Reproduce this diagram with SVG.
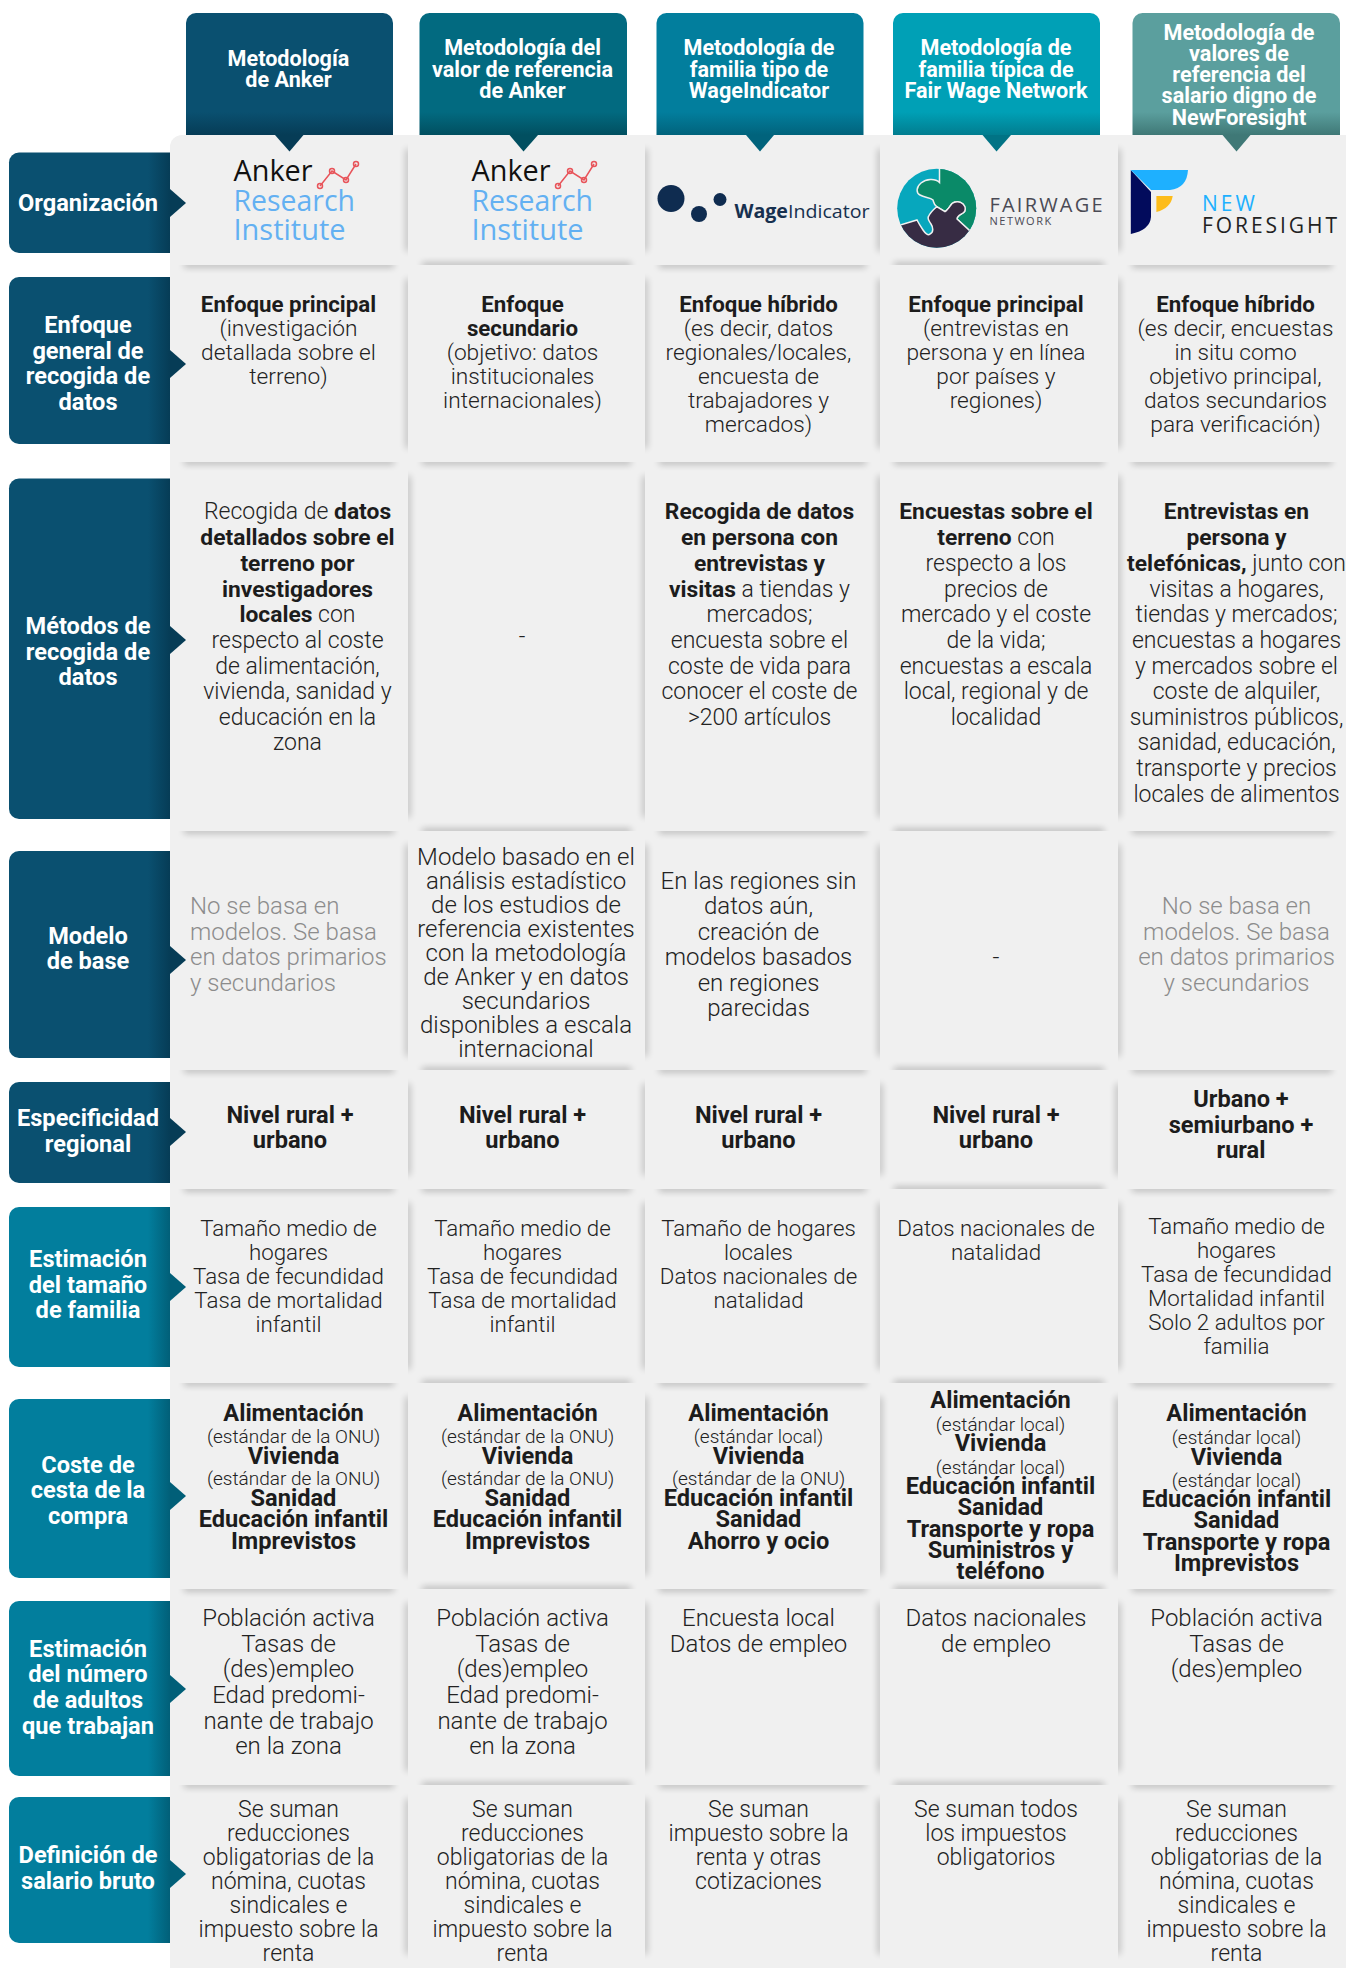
<svg xmlns="http://www.w3.org/2000/svg" width="1346" height="1968" viewBox="0 0 1346 1968">
<style>
text{font-family:Roboto,"Liberation Sans",sans-serif;text-anchor:middle}
.t{font-size:22.7px;font-weight:300;fill:#222}
.f{font-size:22.3px;font-weight:300;fill:#222}
.d{font-size:23px;font-weight:300;fill:#222}
.a{font-size:24px;font-weight:300;fill:#222}
.o{font-size:24px;font-weight:300;fill:#222}
.m{font-size:23px;font-weight:300;fill:#222}
.b{font-weight:700;fill:#1c1c1c}
.t .b{font-size:22.3px}
.m .b{font-size:22.8px}
.p{font-size:19px;font-weight:300;fill:#222}
.c{font-size:23.6px;font-weight:700;fill:#1c1c1c}
.g{font-size:24px;font-weight:300;fill:#8c8c8c}
.h{font-size:21.6px;font-weight:700;fill:#fff}
.l{font-size:23.6px;font-weight:700;fill:#fff;transform:translateY(.8px)}
.s{fill:#000;opacity:.28;filter:url(#bl)}
.v .s{opacity:.24}
.logo{font-family:"Open Sans",sans-serif;text-anchor:start}
.blue{font-size:30px;fill:#63b0f2}
.red{fill:none;stroke:#e8545a;stroke-width:1.5px}
</style>
<defs>
<filter id="bl" x="-400%" y="-400%" width="900%" height="900%"><feGaussianBlur stdDeviation="3.5"/></filter>
<linearGradient id="ld" gradientUnits="userSpaceOnUse" x1="148" y1="0" x2="170" y2="0"><stop offset="0" stop-color="#0a5070"/><stop offset="1" stop-color="#063c56"/></linearGradient>
<linearGradient id="lt" gradientUnits="userSpaceOnUse" x1="148" y1="0" x2="170" y2="0"><stop offset="0" stop-color="#027e9d"/><stop offset="1" stop-color="#015f78"/></linearGradient>
<linearGradient id="h1" gradientUnits="userSpaceOnUse" x1="0" y1="112" x2="0" y2="135"><stop offset="0" stop-color="#0a5070"/><stop offset="1" stop-color="#063c56"/></linearGradient>
<linearGradient id="h2" gradientUnits="userSpaceOnUse" x1="0" y1="112" x2="0" y2="135"><stop offset="0" stop-color="#026a80"/><stop offset="1" stop-color="#014f60"/></linearGradient>
<linearGradient id="h3" gradientUnits="userSpaceOnUse" x1="0" y1="112" x2="0" y2="135"><stop offset="0" stop-color="#027e9d"/><stop offset="1" stop-color="#01637c"/></linearGradient>
<linearGradient id="h4" gradientUnits="userSpaceOnUse" x1="0" y1="112" x2="0" y2="135"><stop offset="0" stop-color="#00a0b6"/><stop offset="1" stop-color="#017d8f"/></linearGradient>
<linearGradient id="h5" gradientUnits="userSpaceOnUse" x1="0" y1="112" x2="0" y2="135"><stop offset="0" stop-color="#5b9f9e"/><stop offset="1" stop-color="#3f7876"/></linearGradient>
<clipPath id="fw"><circle cx="936.700" cy="208.300" r="39.500"/></clipPath>
</defs>
<rect width="1346" height="1968" fill="#fff"/>

<g id="headers">
<g id="header-1"><path d="M186 135V23a10 10 0 0 1 10-10H383a10 10 0 0 1 10 10V135Z" fill="url(#h1)"/><text class="h"><tspan x="288.500" y="66">Metodología</tspan><tspan x="288.500" y="87">de Anker</tspan></text></g>
<g id="header-2"><path d="M419.500 135V23a10 10 0 0 1 10-10H617a10 10 0 0 1 10 10V135Z" fill="url(#h2)"/><text class="h"><tspan x="522.500" y="55">Metodología del</tspan><tspan x="522.500" y="76.500">valor de referencia</tspan><tspan x="522.500" y="97.500">de Anker</tspan></text></g>
<g id="header-3"><path d="M656.500 135V23a10 10 0 0 1 10-10H853.500a10 10 0 0 1 10 10V135Z" fill="url(#h3)"/><text class="h"><tspan x="759" y="55">Metodología de</tspan><tspan x="759" y="76.500">familia tipo de</tspan><tspan x="759" y="97.500">WageIndicator</tspan></text></g>
<g id="header-4"><path d="M893 135V23a10 10 0 0 1 10-10H1090a10 10 0 0 1 10 10V135Z" fill="url(#h4)"/><text class="h"><tspan x="996" y="55">Metodología de</tspan><tspan x="996" y="76.500">familia típica de</tspan><tspan x="996" y="97.500">Fair Wage Network</tspan></text></g>
<g id="header-5"><path d="M1132.500 135V23a10 10 0 0 1 10-10H1330a10 10 0 0 1 10 10V135Z" fill="url(#h5)"/><text class="h"><tspan x="1239" y="39.500">Metodología de</tspan><tspan x="1239" y="60.500">valores de</tspan><tspan x="1239" y="82">referencia del</tspan><tspan x="1239" y="103">salario digno de</tspan><tspan x="1239" y="124.500">NewForesight</tspan></text></g>
</g>

<g id="row-labels">
<g id="lab-1"><path d="M170 152.500H19a10 10 0 0 0-10 10V243a10 10 0 0 0 10 10H170Z" fill="url(#ld)"/><text class="l"><tspan x="88" y="210">Organización</tspan></text></g>
<g id="lab-2"><path d="M170 277H19a10 10 0 0 0-10 10V434a10 10 0 0 0 10 10H170Z" fill="url(#ld)"/><text class="l"><tspan x="88" y="332">Enfoque</tspan><tspan x="88" y="358">general de</tspan><tspan x="88" y="383.500">recogida de</tspan><tspan x="88" y="409.500">datos</tspan></text></g>
<g id="lab-3"><path d="M170 478.500H19a10 10 0 0 0-10 10V809a10 10 0 0 0 10 10H170Z" fill="url(#ld)"/><text class="l"><tspan x="88" y="633">Métodos de</tspan><tspan x="88" y="659">recogida de</tspan><tspan x="88" y="684">datos</tspan></text></g>
<g id="lab-4"><path d="M170 851H19a10 10 0 0 0-10 10V1048a10 10 0 0 0 10 10H170Z" fill="url(#ld)"/><text class="l"><tspan x="88" y="943">Modelo</tspan><tspan x="88" y="968">de base</tspan></text></g>
<g id="lab-5"><path d="M170 1082H19a10 10 0 0 0-10 10V1173a10 10 0 0 0 10 10H170Z" fill="url(#ld)"/><text class="l"><tspan x="88" y="1125">Especificidad</tspan><tspan x="88" y="1151">regional</tspan></text></g>
<g id="lab-6"><path d="M170 1207H19a10 10 0 0 0-10 10V1357a10 10 0 0 0 10 10H170Z" fill="url(#lt)"/><text class="l"><tspan x="88" y="1266.500">Estimación</tspan><tspan x="88" y="1292">del tamaño</tspan><tspan x="88" y="1317">de familia</tspan></text></g>
<g id="lab-7"><path d="M170 1399H19a10 10 0 0 0-10 10V1568a10 10 0 0 0 10 10H170Z" fill="url(#lt)"/><text class="l"><tspan x="88" y="1472">Coste de</tspan><tspan x="88" y="1497">cesta de la</tspan><tspan x="88" y="1523">compra</tspan></text></g>
<g id="lab-8"><path d="M170 1601H19a10 10 0 0 0-10 10V1766a10 10 0 0 0 10 10H170Z" fill="url(#lt)"/><text class="l"><tspan x="88" y="1656">Estimación</tspan><tspan x="88" y="1681.500">del número</tspan><tspan x="88" y="1707.500">de adultos</tspan><tspan x="88" y="1733.500">que trabajan</tspan></text></g>
<g id="lab-9"><path d="M170 1797H19a10 10 0 0 0-10 10V1933a10 10 0 0 0 10 10H170Z" fill="url(#lt)"/><text class="l"><tspan x="88" y="1862">Definición de</tspan><tspan x="88" y="1888">salario bruto</tspan></text></g>
</g>

<g id="panel"><path d="M170 1968V147a12 12 0 0 1 12-12H1346V1968Z" fill="#f0f0f0"/></g>

<g id="shadows">
<svg x="170" y="265" width="238" height="18"><rect class="s" x="14" y="-3" width="210" height="5"/></svg>
<svg x="170" y="462" width="238" height="18"><rect class="s" x="14" y="-3" width="210" height="5"/></svg>
<svg x="170" y="831" width="238" height="18"><rect class="s" x="14" y="-3" width="210" height="5"/></svg>
<svg x="170" y="1070" width="238" height="18"><rect class="s" x="14" y="-3" width="210" height="5"/></svg>
<svg x="170" y="1189" width="238" height="18"><rect class="s" x="14" y="-3" width="210" height="5"/></svg>
<svg x="170" y="1383" width="238" height="18"><rect class="s" x="14" y="-3" width="210" height="5"/></svg>
<svg x="170" y="1589" width="238" height="18"><rect class="s" x="14" y="-3" width="210" height="5"/></svg>
<svg x="170" y="1785" width="238" height="18"><rect class="s" x="14" y="-3" width="210" height="5"/></svg>

<svg x="645" y="265" width="235" height="18"><rect class="s" x="14" y="-3" width="207" height="5"/></svg>
<svg x="645" y="462" width="235" height="18"><rect class="s" x="14" y="-3" width="207" height="5"/></svg>
<svg x="645" y="831" width="235" height="18"><rect class="s" x="14" y="-3" width="207" height="5"/></svg>
<svg x="645" y="1070" width="235" height="18"><rect class="s" x="14" y="-3" width="207" height="5"/></svg>
<svg x="645" y="1189" width="235" height="18"><rect class="s" x="14" y="-3" width="207" height="5"/></svg>
<svg x="645" y="1383" width="235" height="18"><rect class="s" x="14" y="-3" width="207" height="5"/></svg>
<svg x="645" y="1589" width="235" height="18"><rect class="s" x="14" y="-3" width="207" height="5"/></svg>
<svg x="645" y="1785" width="235" height="18"><rect class="s" x="14" y="-3" width="207" height="5"/></svg>

<svg x="1118" y="265" width="228" height="18"><rect class="s" x="14" y="-3" width="200" height="5"/></svg>
<svg x="1118" y="462" width="228" height="18"><rect class="s" x="14" y="-3" width="200" height="5"/></svg>
<svg x="1118" y="831" width="228" height="18"><rect class="s" x="14" y="-3" width="200" height="5"/></svg>
<svg x="1118" y="1070" width="228" height="18"><rect class="s" x="14" y="-3" width="200" height="5"/></svg>
<svg x="1118" y="1189" width="228" height="18"><rect class="s" x="14" y="-3" width="200" height="5"/></svg>
<svg x="1118" y="1383" width="228" height="18"><rect class="s" x="14" y="-3" width="200" height="5"/></svg>
<svg x="1118" y="1589" width="228" height="18"><rect class="s" x="14" y="-3" width="200" height="5"/></svg>
<svg x="1118" y="1785" width="228" height="18"><rect class="s" x="14" y="-3" width="200" height="5"/></svg>

<svg x="408" y="247" width="237" height="18"><rect class="s" x="14" y="16" width="209" height="5"/></svg>
<svg x="408" y="462" width="237" height="18"><rect class="s" x="14" y="-3" width="209" height="5"/></svg>
<svg x="408" y="813" width="237" height="18"><rect class="s" x="14" y="16" width="209" height="5"/></svg>
<svg x="408" y="1052" width="237" height="18"><rect class="s" x="14" y="16" width="209" height="5"/></svg>
<svg x="408" y="1189" width="237" height="18"><rect class="s" x="14" y="-3" width="209" height="5"/></svg>
<svg x="408" y="1365" width="237" height="18"><rect class="s" x="14" y="16" width="209" height="5"/></svg>
<svg x="408" y="1571" width="237" height="18"><rect class="s" x="14" y="16" width="209" height="5"/></svg>
<svg x="408" y="1767" width="237" height="18"><rect class="s" x="14" y="16" width="209" height="5"/></svg>

<svg x="880" y="247" width="238" height="18"><rect class="s" x="14" y="16" width="210" height="5"/></svg>
<svg x="880" y="462" width="238" height="18"><rect class="s" x="14" y="-3" width="210" height="5"/></svg>
<svg x="880" y="813" width="238" height="18"><rect class="s" x="14" y="16" width="210" height="5"/></svg>
<svg x="880" y="1052" width="238" height="18"><rect class="s" x="14" y="16" width="210" height="5"/></svg>
<svg x="880" y="1171" width="238" height="18"><rect class="s" x="14" y="16" width="210" height="5"/></svg>
<svg x="880" y="1365" width="238" height="18"><rect class="s" x="14" y="16" width="210" height="5"/></svg>
<svg x="880" y="1571" width="238" height="18"><rect class="s" x="14" y="16" width="210" height="5"/></svg>
<svg x="880" y="1767" width="238" height="18"><rect class="s" x="14" y="16" width="210" height="5"/></svg>

<g class="v">
<!-- column 2 edges -->
<svg x="392" y="135" width="16" height="130"><rect class="s" x="14" y="14" width="5" height="102"/></svg>
<svg x="645" y="135" width="16" height="130"><rect class="s" x="-3" y="14" width="5" height="102"/></svg>
<svg x="392" y="265" width="16" height="197"><rect class="s" x="14" y="14" width="5" height="169"/></svg>
<svg x="645" y="265" width="16" height="197"><rect class="s" x="-3" y="14" width="5" height="169"/></svg>
<svg x="408" y="462" width="16" height="369"><rect class="s" x="-3" y="14" width="5" height="341"/></svg>
<svg x="629" y="462" width="16" height="369"><rect class="s" x="14" y="14" width="5" height="341"/></svg>
<svg x="392" y="831" width="16" height="239"><rect class="s" x="14" y="14" width="5" height="211"/></svg>
<svg x="645" y="831" width="16" height="239"><rect class="s" x="-3" y="14" width="5" height="211"/></svg>
<svg x="408" y="1070" width="16" height="119"><rect class="s" x="-3" y="14" width="5" height="91"/></svg>
<svg x="629" y="1070" width="16" height="119"><rect class="s" x="14" y="14" width="5" height="91"/></svg>
<svg x="408" y="1189" width="16" height="194"><rect class="s" x="-3" y="14" width="5" height="166"/></svg>
<svg x="629" y="1189" width="16" height="194"><rect class="s" x="14" y="14" width="5" height="166"/></svg>
<svg x="392" y="1383" width="16" height="206"><rect class="s" x="14" y="14" width="5" height="178"/></svg>
<svg x="645" y="1383" width="16" height="206"><rect class="s" x="-3" y="14" width="5" height="178"/></svg>
<svg x="392" y="1589" width="16" height="196"><rect class="s" x="14" y="14" width="5" height="168"/></svg>
<svg x="645" y="1589" width="16" height="196"><rect class="s" x="-3" y="14" width="5" height="168"/></svg>
<svg x="392" y="1785" width="16" height="183"><rect class="s" x="14" y="14" width="5" height="155"/></svg>
<svg x="645" y="1785" width="16" height="183"><rect class="s" x="-3" y="14" width="5" height="155"/></svg>
<!-- column 4 edges -->
<svg x="864" y="135" width="16" height="130"><rect class="s" x="14" y="14" width="5" height="102"/></svg>
<svg x="1118" y="135" width="16" height="130"><rect class="s" x="-3" y="14" width="5" height="102"/></svg>
<svg x="864" y="265" width="16" height="197"><rect class="s" x="14" y="14" width="5" height="169"/></svg>
<svg x="1118" y="265" width="16" height="197"><rect class="s" x="-3" y="14" width="5" height="169"/></svg>
<svg x="864" y="462" width="16" height="369"><rect class="s" x="14" y="14" width="5" height="341"/></svg>
<svg x="1118" y="462" width="16" height="369"><rect class="s" x="-3" y="14" width="5" height="341"/></svg>
<svg x="864" y="831" width="16" height="239"><rect class="s" x="14" y="14" width="5" height="211"/></svg>
<svg x="1118" y="831" width="16" height="239"><rect class="s" x="-3" y="14" width="5" height="211"/></svg>
<svg x="880" y="1070" width="16" height="119"><rect class="s" x="-3" y="14" width="5" height="91"/></svg>
<svg x="1102" y="1070" width="16" height="119"><rect class="s" x="14" y="14" width="5" height="91"/></svg>
<svg x="864" y="1189" width="16" height="194"><rect class="s" x="14" y="14" width="5" height="166"/></svg>
<svg x="1118" y="1189" width="16" height="194"><rect class="s" x="-3" y="14" width="5" height="166"/></svg>
<svg x="880" y="1383" width="16" height="206"><rect class="s" x="-3" y="14" width="5" height="178"/></svg>
<svg x="1102" y="1383" width="16" height="206"><rect class="s" x="14" y="14" width="5" height="178"/></svg>
<svg x="864" y="1589" width="16" height="196"><rect class="s" x="14" y="14" width="5" height="168"/></svg>
<svg x="1118" y="1589" width="16" height="196"><rect class="s" x="-3" y="14" width="5" height="168"/></svg>
<svg x="864" y="1785" width="16" height="183"><rect class="s" x="14" y="14" width="5" height="155"/></svg>
<svg x="1118" y="1785" width="16" height="183"><rect class="s" x="-3" y="14" width="5" height="155"/></svg>
</g>
</g>

<g id="connectors">
<path d="M275 135H303.500L289.500 151.500Z" fill="#063c56"/>
<path d="M509.500 135H538L523.500 151.500Z" fill="#014f60"/>
<path d="M746 135H774L760 151.500Z" fill="#01637c"/>
<path d="M982.500 135H1011L996.500 151.500Z" fill="#017385"/>
<path d="M1222.500 135H1250.500L1236.500 151.500Z" fill="#3f7876"/>
<path d="M170 189L186 203L170 217Z" fill="#063c56"/>
<path d="M170 350L186 364L170 378Z" fill="#063c56"/>
<path d="M170 626L186 640L170 654Z" fill="#063c56"/>
<path d="M170 946L186 960L170 974Z" fill="#063c56"/>
<path d="M170 1118L186 1132L170 1146Z" fill="#063c56"/>
<path d="M170 1273L186 1287L170 1301Z" fill="#015f78"/>
<path d="M170 1482L186 1496L170 1510Z" fill="#015f78"/>
<path d="M170 1675L186 1689L170 1703Z" fill="#015f78"/>
<path d="M170 1860L186 1874L170 1888Z" fill="#015f78"/>
</g>

<g id="logos">
<g id="logo-anker-1"><text class="logo" x="233.500" y="181" font-size="30" fill="#111" textLength="79" lengthAdjust="spacingAndGlyphs">Anker</text><text class="logo blue" x="233.500" y="210.500" textLength="121.500" lengthAdjust="spacingAndGlyphs">Research</text><text class="logo blue" x="233.500" y="239.500" textLength="112" lengthAdjust="spacingAndGlyphs">Institute</text><path class="red" d="M320 186L332 171L346 180L356 164"/><g class="red"><circle cx="320" cy="186" r="2.500"/><circle cx="332" cy="171" r="2.500"/><circle cx="346" cy="180" r="2.500"/><circle cx="356" cy="164" r="2.500"/></g></g>
<g id="logo-anker-2"><text class="logo" x="471.500" y="181" font-size="30" fill="#111" textLength="79" lengthAdjust="spacingAndGlyphs">Anker</text><text class="logo blue" x="471.500" y="210.500" textLength="121.500" lengthAdjust="spacingAndGlyphs">Research</text><text class="logo blue" x="471.500" y="239.500" textLength="112" lengthAdjust="spacingAndGlyphs">Institute</text><path class="red" d="M558 186L570 171L584 180L594 164"/><g class="red"><circle cx="558" cy="186" r="2.500"/><circle cx="570" cy="171" r="2.500"/><circle cx="584" cy="180" r="2.500"/><circle cx="594" cy="164" r="2.500"/></g></g>
<g id="logo-wage"><circle cx="671" cy="198.500" r="13.500" fill="#0f2c50"/><circle cx="699" cy="214" r="8" fill="#0f2c50"/><circle cx="720" cy="199.500" r="6.500" fill="#0f2c50"/><text class="logo" x="734.500" y="218" font-size="19" fill="#17304f" textLength="135" lengthAdjust="spacingAndGlyphs"><tspan font-weight="700">Wage</tspan>Indicator</text></g>
<g id="logo-fairwage"><g clip-path="url(#fw)" stroke="#f0f0f0" stroke-width="1.500"><rect x="890" y="160" width="100" height="100" fill="#07a7bd"/><path d="M939.500 165V182.500C935 178 926 179 921 183C916 187 916 193 920 195C925 198 930 197 933 200C934 203 934 205 936.700 206.700L945 211.700C948 210 950 206 952 203.500C955 201 960 201 963 204C966 207 966 211 963 213C960 215 957 216 957 219L970 231H990V165Z" fill="#0a8a68"/><path d="M895 226.500L917 220C919 224 921 227 923 230C925 233 928 236 930 234C934 232 933 227 931 224C929 221 927 219 928.500 216.500C930 213 934 209 936.700 206.700L945 211.700C948 210 950 206 952 203.500C955 201 960 201 963 204C966 207 966 211 963 213C960 215 957 216 957 219L970 231L990 260H895Z" fill="#372c44"/></g><text class="logo" x="989.500" y="212" font-size="20" fill="#4a4a55" textLength="113" lengthAdjust="spacing">FAIRWAGE</text><text class="logo" x="989.500" y="224.500" font-size="11" letter-spacing="1.500" fill="#4a4a55">NETWORK</text></g>
<g id="logo-newforesight"><path d="M1130.800 170L1151 192V217Q1150 230 1130.800 234Z" fill="#020b5c"/><path d="M1130.800 170H1188Q1187 188 1170 190H1151Z" fill="#1eb0ff"/><path d="M1156.400 196H1172.700Q1171 208 1156.400 212Z" fill="#fdbc1a"/><text class="logo" x="1202" y="210.500" font-size="21" letter-spacing="3" fill="#1eb0ff">NEW</text><text class="logo" x="1202" y="232.500" font-size="21" fill="#222" textLength="135" lengthAdjust="spacing">FORESIGHT</text></g>
</g>

<g id="row-enfoque">
<text id="c21" class="t"><tspan class="b" x="288.500" y="312">Enfoque principal</tspan><tspan x="288.500" y="336">(investigación</tspan><tspan x="288.500" y="360">detallada sobre el</tspan><tspan x="288.500" y="384">terreno)</tspan></text>
<text id="c22" class="t"><tspan class="b" x="522.500" y="312">Enfoque</tspan><tspan class="b" x="522.500" y="336">secundario</tspan><tspan x="522.500" y="360">(objetivo: datos</tspan><tspan x="522.500" y="384">institucionales</tspan><tspan x="522.500" y="408">internacionales)</tspan></text>
<text id="c23" class="t"><tspan class="b" x="758.500" y="312">Enfoque híbrido</tspan><tspan x="758.500" y="336">(es decir, datos</tspan><tspan x="758.500" y="360">regionales/locales,</tspan><tspan x="758.500" y="384">encuesta de</tspan><tspan x="758.500" y="408">trabajadores y</tspan><tspan x="758.500" y="432">mercados)</tspan></text>
<text id="c24" class="t"><tspan class="b" x="996" y="312">Enfoque principal</tspan><tspan x="996" y="336">(entrevistas en</tspan><tspan x="996" y="360">persona y en línea</tspan><tspan x="996" y="384">por países y</tspan><tspan x="996" y="408">regiones)</tspan></text>
<text id="c25" class="t"><tspan class="b" x="1235.500" y="312">Enfoque híbrido</tspan><tspan x="1235.500" y="336">(es decir, encuestas</tspan><tspan x="1235.500" y="360">in situ como</tspan><tspan x="1235.500" y="384">objetivo principal,</tspan><tspan x="1235.500" y="408">datos secundarios</tspan><tspan x="1235.500" y="432">para verificación)</tspan></text>
</g>

<g id="row-metodos" transform="translate(0 1)">
<text id="c31" class="m"><tspan x="297.500" y="518">Recogida de <tspan class="b">datos</tspan></tspan><tspan class="b" x="297.500" y="544">detallados sobre el</tspan><tspan class="b" x="297.500" y="570">terreno por</tspan><tspan class="b" x="297.500" y="595.500">investigadores</tspan><tspan x="297.500" y="621"><tspan class="b">locales</tspan> con</tspan><tspan x="297.500" y="647">respecto al coste</tspan><tspan x="297.500" y="672.500">de alimentación,</tspan><tspan x="297.500" y="698">vivienda, sanidad y</tspan><tspan x="297.500" y="723.500">educación en la</tspan><tspan x="297.500" y="749">zona</tspan></text>
<text id="c32" class="m" x="522" y="643">-</text>
<text id="c33" class="m"><tspan class="b" x="759.500" y="518">Recogida de datos</tspan><tspan class="b" x="759.500" y="544">en persona con</tspan><tspan class="b" x="759.500" y="570">entrevistas y</tspan><tspan x="759.500" y="595.500"><tspan class="b">visitas</tspan> a tiendas y</tspan><tspan x="759.500" y="621">mercados;</tspan><tspan x="759.500" y="647">encuesta sobre el</tspan><tspan x="759.500" y="672.500">coste de vida para</tspan><tspan x="759.500" y="698">conocer el coste de</tspan><tspan x="759.500" y="723.500">&gt;200 artículos</tspan></text>
<text id="c34" class="m"><tspan class="b" x="996" y="518">Encuestas sobre el</tspan><tspan x="996" y="544"><tspan class="b">terreno</tspan> con</tspan><tspan x="996" y="570">respecto a los</tspan><tspan x="996" y="595.500">precios de</tspan><tspan x="996" y="621">mercado y el coste</tspan><tspan x="996" y="647">de la vida;</tspan><tspan x="996" y="672.500">encuestas a escala</tspan><tspan x="996" y="698">local, regional y de</tspan><tspan x="996" y="723.500">localidad</tspan></text>
<text id="c35" class="m"><tspan class="b" x="1236.500" y="518">Entrevistas en</tspan><tspan class="b" x="1236.500" y="544">persona y</tspan><tspan x="1236.500" y="570"><tspan class="b">telefónicas,</tspan> junto con</tspan><tspan x="1236.500" y="595.500">visitas a hogares,</tspan><tspan x="1236.500" y="621">tiendas y mercados;</tspan><tspan x="1236.500" y="647">encuestas a hogares</tspan><tspan x="1236.500" y="672.500">y mercados sobre el</tspan><tspan x="1236.500" y="698">coste de alquiler,</tspan><tspan x="1236.500" y="723.500">suministros públicos,</tspan><tspan x="1236.500" y="749">sanidad, educación,</tspan><tspan x="1236.500" y="775">transporte y precios</tspan><tspan x="1236.500" y="800.500">locales de alimentos</tspan></text>
</g>

<g id="row-modelo">
<text id="c41" class="g" style="text-anchor:start"><tspan x="190" y="914">No se basa en</tspan><tspan x="190" y="940">modelos. Se basa</tspan><tspan x="190" y="965">en datos primarios</tspan><tspan x="190" y="990.500">y secundarios</tspan></text>
<text id="c42" class="o"><tspan x="526" y="865">Modelo basado en el</tspan><tspan x="526" y="889">análisis estadístico</tspan><tspan x="526" y="913">de los estudios de</tspan><tspan x="526" y="937">referencia existentes</tspan><tspan x="526" y="961">con la metodología</tspan><tspan x="526" y="985">de Anker y en datos</tspan><tspan x="526" y="1009">secundarios</tspan><tspan x="526" y="1033">disponibles a escala</tspan><tspan x="526" y="1057">internacional</tspan></text>
<text id="c43" class="o"><tspan x="758.500" y="888.500">En las regiones sin</tspan><tspan x="758.500" y="914">datos aún,</tspan><tspan x="758.500" y="940">creación de</tspan><tspan x="758.500" y="965">modelos basados</tspan><tspan x="758.500" y="990.500">en regiones</tspan><tspan x="758.500" y="1015.500">parecidas</tspan></text>
<text id="c44" class="o" x="996" y="965">-</text>
<text id="c45" class="g"><tspan x="1236.500" y="914">No se basa en</tspan><tspan x="1236.500" y="940">modelos. Se basa</tspan><tspan x="1236.500" y="965">en datos primarios</tspan><tspan x="1236.500" y="990.500">y secundarios</tspan></text>
</g>

<g id="row-especificidad" transform="translate(0 .8)">
<text id="c51" class="c"><tspan x="290" y="1122">Nivel rural +</tspan><tspan x="290" y="1147">urbano</tspan></text>
<text id="c52" class="c"><tspan x="522.500" y="1122">Nivel rural +</tspan><tspan x="522.500" y="1147">urbano</tspan></text>
<text id="c53" class="c"><tspan x="758.500" y="1122">Nivel rural +</tspan><tspan x="758.500" y="1147">urbano</tspan></text>
<text id="c54" class="c"><tspan x="996" y="1122">Nivel rural +</tspan><tspan x="996" y="1147">urbano</tspan></text>
<text id="c55" class="c"><tspan x="1241" y="1106">Urbano +</tspan><tspan x="1241" y="1132">semiurbano +</tspan><tspan x="1241" y="1157">rural</tspan></text>
</g>

<g id="row-familia">
<text id="c61" class="f"><tspan x="288.500" y="1236">Tamaño medio de</tspan><tspan x="288.500" y="1260">hogares</tspan><tspan x="288.500" y="1284">Tasa de fecundidad</tspan><tspan x="288.500" y="1308">Tasa de mortalidad</tspan><tspan x="288.500" y="1332">infantil</tspan></text>
<text id="c62" class="f"><tspan x="522.500" y="1236">Tamaño medio de</tspan><tspan x="522.500" y="1260">hogares</tspan><tspan x="522.500" y="1284">Tasa de fecundidad</tspan><tspan x="522.500" y="1308">Tasa de mortalidad</tspan><tspan x="522.500" y="1332">infantil</tspan></text>
<text id="c63" class="f"><tspan x="758.500" y="1236">Tamaño de hogares</tspan><tspan x="758.500" y="1260">locales</tspan><tspan x="758.500" y="1284">Datos nacionales de</tspan><tspan x="758.500" y="1308">natalidad</tspan></text>
<text id="c64" class="f"><tspan x="996" y="1236">Datos nacionales de</tspan><tspan x="996" y="1260">natalidad</tspan></text>
<text id="c65" class="f"><tspan x="1236.500" y="1234">Tamaño medio de</tspan><tspan x="1236.500" y="1258">hogares</tspan><tspan x="1236.500" y="1282">Tasa de fecundidad</tspan><tspan x="1236.500" y="1306">Mortalidad infantil</tspan><tspan x="1236.500" y="1330">Solo 2 adultos por</tspan><tspan x="1236.500" y="1354">familia</tspan></text>
</g>

<g id="row-coste">
<text id="c71"><tspan class="c" x="293.500" y="1421">Alimentación</tspan><tspan class="p" x="293.500" y="1443">(estándar de la ONU)</tspan><tspan class="c" x="293.500" y="1463.500">Vivienda</tspan><tspan class="p" x="293.500" y="1485">(estándar de la ONU)</tspan><tspan class="c" x="293.500" y="1506">Sanidad</tspan><tspan class="c" x="293.500" y="1527">Educación infantil</tspan><tspan class="c" x="293.500" y="1548.500">Imprevistos</tspan></text>
<text id="c72"><tspan class="c" x="527.500" y="1421">Alimentación</tspan><tspan class="p" x="527.500" y="1443">(estándar de la ONU)</tspan><tspan class="c" x="527.500" y="1463.500">Vivienda</tspan><tspan class="p" x="527.500" y="1485">(estándar de la ONU)</tspan><tspan class="c" x="527.500" y="1506">Sanidad</tspan><tspan class="c" x="527.500" y="1527">Educación infantil</tspan><tspan class="c" x="527.500" y="1548.500">Imprevistos</tspan></text>
<text id="c73"><tspan class="c" x="758.500" y="1421">Alimentación</tspan><tspan class="p" x="758.500" y="1443">(estándar local)</tspan><tspan class="c" x="758.500" y="1463.500">Vivienda</tspan><tspan class="p" x="758.500" y="1485">(estándar de la ONU)</tspan><tspan class="c" x="758.500" y="1506">Educación infantil</tspan><tspan class="c" x="758.500" y="1527">Sanidad</tspan><tspan class="c" x="758.500" y="1548.500">Ahorro y ocio</tspan></text>
<text id="c74"><tspan class="c" x="1000.500" y="1408">Alimentación</tspan><tspan class="p" x="1000.500" y="1431">(estándar local)</tspan><tspan class="c" x="1000.500" y="1451">Vivienda</tspan><tspan class="p" x="1000.500" y="1474">(estándar local)</tspan><tspan class="c" x="1000.500" y="1494">Educación infantil</tspan><tspan class="c" x="1000.500" y="1515">Sanidad</tspan><tspan class="c" x="1000.500" y="1537">Transporte y ropa</tspan><tspan class="c" x="1000.500" y="1558">Suministros y</tspan><tspan class="c" x="1000.500" y="1579">teléfono</tspan></text>
<text id="c75"><tspan class="c" x="1236.500" y="1421">Alimentación</tspan><tspan class="p" x="1236.500" y="1444">(estándar local)</tspan><tspan class="c" x="1236.500" y="1465">Vivienda</tspan><tspan class="p" x="1236.500" y="1487">(estándar local)</tspan><tspan class="c" x="1236.500" y="1507">Educación infantil</tspan><tspan class="c" x="1236.500" y="1528">Sanidad</tspan><tspan class="c" x="1236.500" y="1550">Transporte y ropa</tspan><tspan class="c" x="1236.500" y="1571">Imprevistos</tspan></text>
</g>

<g id="row-adultos">
<text id="c81" class="a"><tspan x="288.500" y="1626">Población activa</tspan><tspan x="288.500" y="1652">Tasas de</tspan><tspan x="288.500" y="1677">(des)empleo</tspan><tspan x="288.500" y="1703">Edad predomi-</tspan><tspan x="288.500" y="1728.500">nante de trabajo</tspan><tspan x="288.500" y="1754">en la zona</tspan></text>
<text id="c82" class="a"><tspan x="522.500" y="1626">Población activa</tspan><tspan x="522.500" y="1652">Tasas de</tspan><tspan x="522.500" y="1677">(des)empleo</tspan><tspan x="522.500" y="1703">Edad predomi-</tspan><tspan x="522.500" y="1728.500">nante de trabajo</tspan><tspan x="522.500" y="1754">en la zona</tspan></text>
<text id="c83" class="a"><tspan x="758.500" y="1626">Encuesta local</tspan><tspan x="758.500" y="1652">Datos de empleo</tspan></text>
<text id="c84" class="a"><tspan x="996" y="1626">Datos nacionales</tspan><tspan x="996" y="1652">de empleo</tspan></text>
<text id="c85" class="a"><tspan x="1236.500" y="1626">Población activa</tspan><tspan x="1236.500" y="1652">Tasas de</tspan><tspan x="1236.500" y="1677">(des)empleo</tspan></text>
</g>

<g id="row-definicion">
<text id="c91" class="d"><tspan x="288.500" y="1817">Se suman</tspan><tspan x="288.500" y="1841">reducciones</tspan><tspan x="288.500" y="1865">obligatorias de la</tspan><tspan x="288.500" y="1889">nómina, cuotas</tspan><tspan x="288.500" y="1913">sindicales e</tspan><tspan x="288.500" y="1937">impuesto sobre la</tspan><tspan x="288.500" y="1961">renta</tspan></text>
<text id="c92" class="d"><tspan x="522.500" y="1817">Se suman</tspan><tspan x="522.500" y="1841">reducciones</tspan><tspan x="522.500" y="1865">obligatorias de la</tspan><tspan x="522.500" y="1889">nómina, cuotas</tspan><tspan x="522.500" y="1913">sindicales e</tspan><tspan x="522.500" y="1937">impuesto sobre la</tspan><tspan x="522.500" y="1961">renta</tspan></text>
<text id="c93" class="d"><tspan x="758.500" y="1817">Se suman</tspan><tspan x="758.500" y="1841">impuesto sobre la</tspan><tspan x="758.500" y="1865">renta y otras</tspan><tspan x="758.500" y="1889">cotizaciones</tspan></text>
<text id="c94" class="d"><tspan x="996" y="1817">Se suman todos</tspan><tspan x="996" y="1841">los impuestos</tspan><tspan x="996" y="1865">obligatorios</tspan></text>
<text id="c95" class="d"><tspan x="1236.500" y="1817">Se suman</tspan><tspan x="1236.500" y="1841">reducciones</tspan><tspan x="1236.500" y="1865">obligatorias de la</tspan><tspan x="1236.500" y="1889">nómina, cuotas</tspan><tspan x="1236.500" y="1913">sindicales e</tspan><tspan x="1236.500" y="1937">impuesto sobre la</tspan><tspan x="1236.500" y="1961">renta</tspan></text>
</g>
</svg>
